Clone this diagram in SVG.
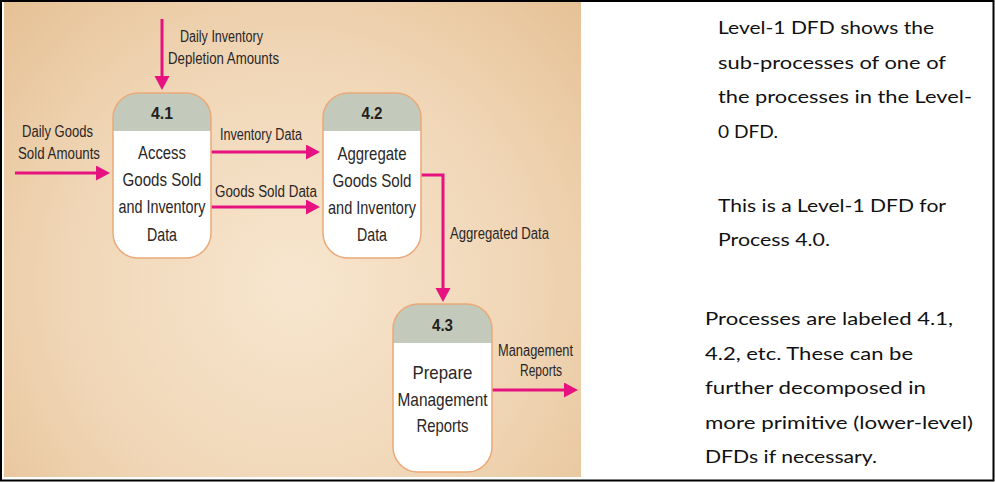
<svg xmlns="http://www.w3.org/2000/svg" width="995" height="482" viewBox="0 0 995 482">
<style>
.lbl{font-family:"Liberation Sans Narrow","Liberation Sans",Arial,sans-serif;font-size:16px;fill:#2a2626}
.nt{font-family:"Liberation Sans Narrow","Liberation Sans",Arial,sans-serif;font-size:18.5px;fill:#2a2626;text-anchor:middle}
.num{font-family:"Liberation Sans Narrow","Liberation Sans",Arial,sans-serif;font-size:16px;font-weight:bold;fill:#231f20;text-anchor:middle}
.body{fill:#ffffff;stroke:none}
.head{fill:#c3cabb;stroke:none}
.outline{fill:none;stroke:#eaa978;stroke-width:1.5}
.flow{fill:none;stroke:#e5127f;stroke-width:3}
.note{font-family:Lato,"Open Sans","Liberation Sans",sans-serif;font-size:18px;fill:#111111}
</style>
<defs>
<radialGradient id="bg" gradientUnits="userSpaceOnUse" cx="295" cy="285" r="420">
<stop offset="0" stop-color="#f7e6cf"/>
<stop offset="0.55" stop-color="#f0d6b6"/>
<stop offset="1" stop-color="#e5bf92"/>
</radialGradient>
<marker id="ah" markerUnits="userSpaceOnUse" markerWidth="16" markerHeight="16" refX="6" refY="7.5" orient="auto">
<path d="M0,0 L14,7.5 L0,15 Z" fill="#e5127f"/>
</marker>
</defs>
<rect x="0" y="0" width="995" height="482" fill="#ffffff"/>
<rect x="4" y="2" width="577" height="475" fill="url(#bg)"/>
<rect x="1" y="1" width="992.5" height="479.5" fill="none" stroke="#000000" stroke-width="2"/>

<g id="connectors">
<path class="flow" d="M162,19 V82" marker-end="url(#ah)"/>
<path class="flow" d="M15,173 H102" marker-end="url(#ah)"/>
<path class="flow" d="M211,152 H312" marker-end="url(#ah)"/>
<path class="flow" d="M211,207 H312" marker-end="url(#ah)"/>
<path class="flow" d="M421,175 H443 V294" marker-end="url(#ah)"/>
<path class="flow" d="M492,390 H570" marker-end="url(#ah)"/>
<text class="lbl" x="180" y="42" textLength="83" lengthAdjust="spacingAndGlyphs">Daily Inventory</text>
<text class="lbl" x="168" y="64" textLength="111" lengthAdjust="spacingAndGlyphs">Depletion Amounts</text>
<text class="lbl" x="22" y="137" textLength="71" lengthAdjust="spacingAndGlyphs">Daily Goods</text>
<text class="lbl" x="18" y="159" textLength="82" lengthAdjust="spacingAndGlyphs">Sold Amounts</text>
<text class="lbl" x="220" y="140" textLength="82" lengthAdjust="spacingAndGlyphs">Inventory Data</text>
<text class="lbl" x="215" y="197" textLength="102" lengthAdjust="spacingAndGlyphs">Goods Sold Data</text>
<text class="lbl" x="450" y="239" textLength="99" lengthAdjust="spacingAndGlyphs">Aggregated Data</text>
<text class="lbl" x="498" y="356" textLength="75" lengthAdjust="spacingAndGlyphs">Management</text>
<text class="lbl" x="520" y="376" textLength="42" lengthAdjust="spacingAndGlyphs">Reports</text>
</g>

<g id="node-4-1">
<rect class="body" x="113" y="93" width="98" height="165" rx="25" ry="25"/>
<path class="head" d="M113,131 V118 A25,25 0 0 1 138,93 H186 A25,25 0 0 1 211,118 V131 Z"/>
<rect class="outline" x="113" y="93" width="98" height="165" rx="25" ry="25"/>
<text class="num" x="162" y="119" textLength="22" lengthAdjust="spacingAndGlyphs">4.1</text>
<text class="nt" x="162" y="159" textLength="48" lengthAdjust="spacingAndGlyphs">Access</text>
<text class="nt" x="162" y="186" textLength="79" lengthAdjust="spacingAndGlyphs">Goods Sold</text>
<text class="nt" x="162" y="213" textLength="87" lengthAdjust="spacingAndGlyphs">and Inventory</text>
<text class="nt" x="162" y="241" textLength="30" lengthAdjust="spacingAndGlyphs">Data</text>
</g>

<g id="node-4-2">
<rect class="body" x="323" y="93" width="98" height="165" rx="25" ry="25"/>
<path class="head" d="M323,131 V118 A25,25 0 0 1 348,93 H396 A25,25 0 0 1 421,118 V131 Z"/>
<rect class="outline" x="323" y="93" width="98" height="165" rx="25" ry="25"/>
<text class="num" x="372" y="119" textLength="21" lengthAdjust="spacingAndGlyphs">4.2</text>
<text class="nt" x="372" y="160" textLength="69" lengthAdjust="spacingAndGlyphs">Aggregate</text>
<text class="nt" x="372" y="187" textLength="79" lengthAdjust="spacingAndGlyphs">Goods Sold</text>
<text class="nt" x="372" y="214" textLength="88" lengthAdjust="spacingAndGlyphs">and Inventory</text>
<text class="nt" x="372" y="241" textLength="30" lengthAdjust="spacingAndGlyphs">Data</text>
</g>

<g id="node-4-3">
<rect class="body" x="393" y="304" width="99" height="168" rx="25" ry="25"/>
<path class="head" d="M393,343 V329 A25,25 0 0 1 418,304 H467 A25,25 0 0 1 492,329 V343 Z"/>
<rect class="outline" x="393" y="304" width="99" height="168" rx="25" ry="25"/>
<text class="num" x="442.5" y="331" textLength="21" lengthAdjust="spacingAndGlyphs">4.3</text>
<text class="nt" x="442.5" y="379" textLength="60" lengthAdjust="spacingAndGlyphs">Prepare</text>
<text class="nt" x="442.5" y="406" textLength="90" lengthAdjust="spacingAndGlyphs">Management</text>
<text class="nt" x="442.5" y="432" textLength="52" lengthAdjust="spacingAndGlyphs">Reports</text>
</g>

<g id="notes">
<text class="note" x="718" y="34" textLength="216" lengthAdjust="spacingAndGlyphs">Level-1 DFD shows the</text>
<text class="note" x="718" y="68.5" textLength="228" lengthAdjust="spacingAndGlyphs">sub-processes of one of</text>
<text class="note" x="718" y="103" textLength="254" lengthAdjust="spacingAndGlyphs">the processes in the Level-</text>
<text class="note" x="718" y="138" textLength="60" lengthAdjust="spacingAndGlyphs">0 DFD.</text>
<text class="note" x="718" y="212" textLength="228" lengthAdjust="spacingAndGlyphs">This is a Level-1 DFD for</text>
<text class="note" x="718" y="246" textLength="112" lengthAdjust="spacingAndGlyphs">Process 4.0.</text>
<text class="note" x="705" y="325" textLength="248" lengthAdjust="spacingAndGlyphs">Processes are labeled 4.1,</text>
<text class="note" x="705" y="360" textLength="208" lengthAdjust="spacingAndGlyphs">4.2, etc. These can be</text>
<text class="note" x="705" y="393.5" textLength="221" lengthAdjust="spacingAndGlyphs">further decomposed in</text>
<text class="note" x="705" y="428.5" textLength="268" lengthAdjust="spacingAndGlyphs">more primitive (lower-level)</text>
<text class="note" x="705" y="463" textLength="172" lengthAdjust="spacingAndGlyphs">DFDs if necessary.</text>
</g>
</svg>
